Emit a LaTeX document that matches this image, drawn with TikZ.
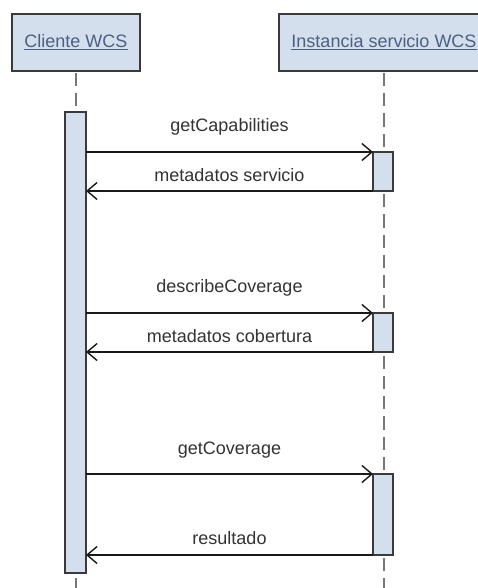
\documentclass[tikz,border=0pt]{standalone}
\usepackage{fontspec}
\setmainfont{Liberation Sans}
\usetikzlibrary{arrows.meta}
\definecolor{boxfill}{HTML}{D4DFEE}
\definecolor{boxline}{HTML}{3A3A3A}
\definecolor{headtext}{HTML}{4D6082}
\definecolor{msgtext}{HTML}{333333}
\definecolor{lifegray}{HTML}{777777}
\tikzset{
  actor/.style={draw=boxline, line width=2.2pt, fill=boxfill},
  lifeline/.style={draw=lifegray, line width=2.2pt, dash pattern=on 13.2pt off 7pt},
  actbar/.style={draw=boxline, line width=1.8pt, fill=boxfill},
  msg/.style={draw=black!90, line width=1.6pt,
    -{Straight Barb[length=10pt, width=17pt, line width=1.4pt]}},
  msglabel/.style={font=\fontsize{18}{21}\selectfont, text=msgtext, inner sep=0pt},
  headlabel/.style={font=\fontsize{18}{21}\selectfont, text=headtext, inner sep=0pt},
}
\begin{document}
\begin{tikzpicture}[x=1pt, y=-1pt]
\useasboundingbox (0,0) rectangle (478,588);
\clip (0,0) rectangle (478,588);
\fill[white] (0,0) rectangle (478,588);

% participants
\draw[actor] (12,14) rectangle (140,71);
\draw[actor] (279,14) rectangle (489,71);
\node[headlabel] (cli) at (76,42) {\underline{Cliente WCS}};
\node[headlabel] (srv) at (384,42) {\underline{Instancia servicio WCS}};

% lifelines
\coordinate (cliTop) at (76,73);
\coordinate (cliEnd) at (76,588);
\coordinate (srvTop) at (384,73);
\coordinate (srvEnd) at (384,588);
\draw[lifeline] (cliTop) -- (cliEnd);
\draw[lifeline] (srvTop) -- (srvEnd);

% activation bars
\draw[actbar] (65,112) rectangle (86,573);
\draw[actbar] (373,152) rectangle (393,191);
\draw[actbar] (373,313) rectangle (393,352);
\draw[actbar] (373,474) rectangle (393,555);

% message anchor points
\coordinate (c1) at (86,152);  \coordinate (s1) at (373,152);
\coordinate (c2) at (86,191);  \coordinate (s2) at (373,191);
\coordinate (c3) at (86,313);  \coordinate (s3) at (373,313);
\coordinate (c4) at (86,352);  \coordinate (s4) at (373,352);
\coordinate (c5) at (86,474);  \coordinate (s5) at (373,474);
\coordinate (c6) at (86,555);  \coordinate (s6) at (373,555);

% messages
\draw[msg] (c1) -- (s1);
\draw[msg] (s2) -- (c2);
\draw[msg] (c3) -- (s3);
\draw[msg] (s4) -- (c4);
\draw[msg] (c5) -- (s5);
\draw[msg] (s6) -- (c6);

\node[msglabel] (l1) at (229.5,127) {getCapabilities};
\node[msglabel] (l2) at (229.5,175) {metadatos servicio};
\node[msglabel] (l3) at (229.5,288) {describeCoverage};
\node[msglabel] (l4) at (229.5,336) {metadatos cobertura};
\node[msglabel] (l5) at (229.5,450) {getCoverage};
\node[msglabel] (l6) at (229.5,538) {resultado};
\end{tikzpicture}
\end{document}
